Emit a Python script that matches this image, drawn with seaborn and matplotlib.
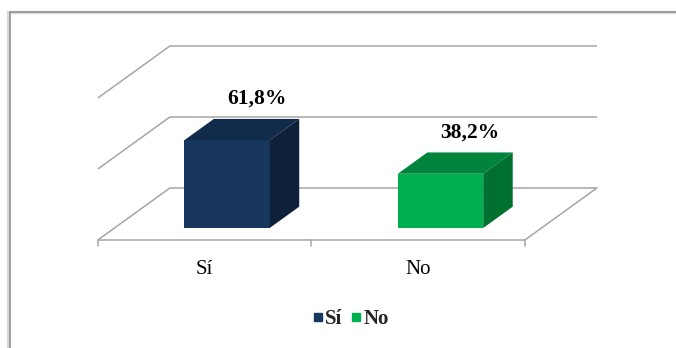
import matplotlib
matplotlib.use("Agg")
import matplotlib.pyplot as plt
from matplotlib.patches import Polygon, Rectangle
from matplotlib.lines import Line2D
import seaborn as sns

# Data
categories = ["Sí", "No"]
values = [61.8, 38.2]
value_labels = ["61,8%", "38,2%"]
gridlines = [0, 50, 100]

# Colours: front, top and side faces of each block
front_colors = ["#17375E", "#00B050"]
top_colors = ["#132B4A", "#00843C"]
side_colors = ["#0F213A", "#00702F"]
grid_color = "#A6A6A6"

sns.set_theme(style="white")
plt.rcParams["font.family"] = ["Liberation Serif", "DejaVu Serif"]

W, H, DPI = 676, 348, 100
fig = plt.figure(figsize=(W / DPI, H / DPI), dpi=DPI)
ax = fig.add_axes([0, 0, 1, 1])

# Oblique projection: x in category units, v in percent, z = depth (0 front, 1 back)
PX_PER_CAT = 213.5
PX_PER_PCT = 1.42
DX = 72 / PX_PER_CAT      # horizontal shift over the full depth
DY = 52 / PX_PER_PCT      # vertical shift over the full depth
Z_FRONT, Z_BACK = 0.23, 0.64
BAR_WIDTH = 0.40
FLOOR_SHIFT = -0.027


def proj(x, z, v):
    return (x + (z - Z_FRONT) * DX, v + (z - Z_FRONT) * DY)


# Front faces of the blocks
sns.barplot(x=categories, y=values, hue=categories, palette=front_colors,
            width=BAR_WIDTH, saturation=1, legend=False, ax=ax,
            edgecolor="none", linewidth=0, zorder=3)

n = len(categories)
x_left = -0.5 + FLOOR_SHIFT
x_right = n - 0.5 + FLOOR_SHIFT

# Back wall and left wall gridlines
for g in gridlines:
    xs, ys = zip(proj(x_left, 1, g), proj(x_right, 1, g))
    ax.plot(xs, ys, color=grid_color, lw=1.1, zorder=1, solid_capstyle="butt")
    xs, ys = zip(proj(x_left, 0, g), proj(x_left, 1, g))
    ax.plot(xs, ys, color=grid_color, lw=1.1, zorder=1, solid_capstyle="butt")

# Floor: front edge and right side
xs, ys = zip(proj(x_left, 0, 0), proj(x_right, 0, 0))
ax.plot(xs, ys, color=grid_color, lw=1.1, zorder=1)
xs, ys = zip(proj(x_right, 0, 0), proj(x_right, 1, 0))
ax.plot(xs, ys, color=grid_color, lw=1.1, zorder=1)

# Category tick marks and labels along the front edge of the floor
tick_len = 4.2
for i in range(n + 1):
    bx = i - 0.5 + FLOOR_SHIFT
    x0, y0 = proj(bx, 0, 0)
    ax.plot([x0, x0], [y0, y0 - tick_len], color=grid_color, lw=1.1, zorder=1)
for i, cat in enumerate(categories):
    x0, y0 = proj(i + FLOOR_SHIFT, 0, 0)
    ax.annotate(cat, xy=(x0, y0), xytext=(0, -21), textcoords="offset points",
                ha="center", va="center", fontsize=15, color="black")

# Top and side faces, value labels
for i, bar in enumerate(ax.patches[:n]):
    x0 = bar.get_x()
    x1 = x0 + bar.get_width()
    h = bar.get_height()
    top = [proj(x0, Z_FRONT, h), proj(x1, Z_FRONT, h),
           proj(x1, Z_BACK, h), proj(x0, Z_BACK, h)]
    side = [proj(x1, Z_FRONT, 0), proj(x1, Z_FRONT, h),
            proj(x1, Z_BACK, h), proj(x1, Z_BACK, 0)]
    ax.add_patch(Polygon(top, closed=True, facecolor=top_colors[i],
                         edgecolor="none", zorder=4))
    ax.add_patch(Polygon(side, closed=True, facecolor=side_colors[i],
                         edgecolor="none", zorder=4))
    lx, _ = proj((x0 + x1) / 2, Z_BACK, h)
    _, ly = proj(0, 1, h)
    ax.text(lx, ly + 1, value_labels[i], ha="center", va="center",
            fontsize=15.5, fontweight="bold", color="black", zorder=5)

# Map data units onto pixels
ax.set_xlim(-227 / PX_PER_CAT, (W - 227) / PX_PER_CAT)
ax.set_ylim(-(H - 228) / PX_PER_PCT, 228 / PX_PER_PCT)
ax.axis("off")

# Legend
handles = [Line2D([], [], marker="s", linestyle="none", markersize=5.2,
                  markerfacecolor=c, markeredgecolor=c) for c in front_colors]
fig.legend(handles, categories, loc="center",
           bbox_to_anchor=(351 / W, 1 - 319 / H), ncol=2, frameon=False,
           prop={"family": "Liberation Serif", "weight": "bold", "size": 15},
           handlelength=0.4, handletextpad=0.15, columnspacing=0.45,
           borderpad=0, borderaxespad=0)

# Chart-area frame
fig.add_artist(Rectangle((8 / W, -0.1), 1.2, 1.1 - 12 / H,
                         transform=fig.transFigure, fill=False,
                         edgecolor="#D9D9D9", lw=2.4))
fig.add_artist(Rectangle((9.5 / W, -0.1), 1.2, 1.1 - 12 / H,
                         transform=fig.transFigure, fill=False,
                         edgecolor="#8C8C8C", lw=1.1))

fig.savefig("out.png", dpi=DPI)
